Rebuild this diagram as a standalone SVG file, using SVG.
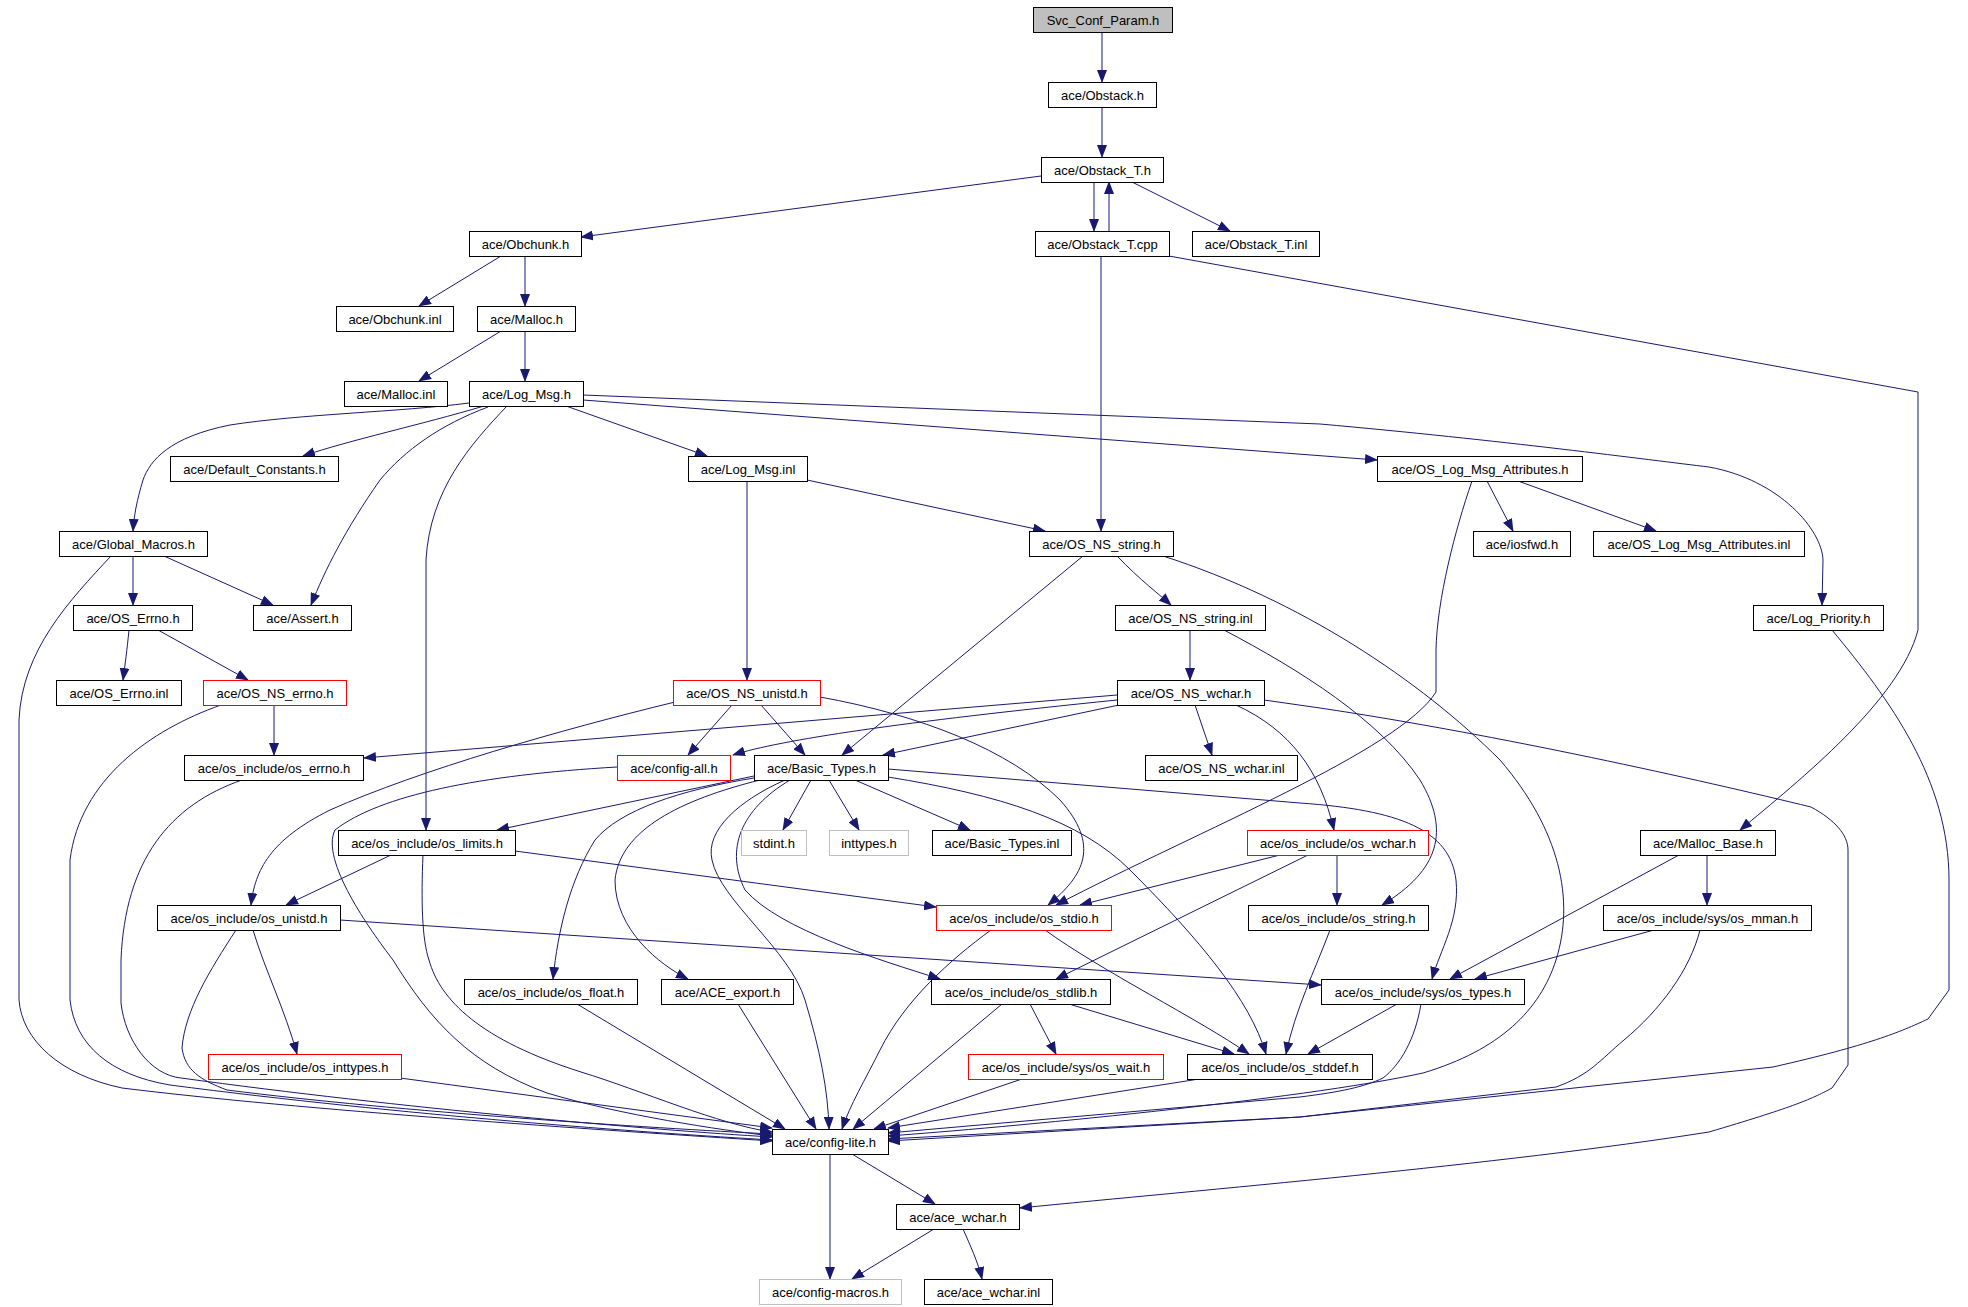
<svg xmlns="http://www.w3.org/2000/svg" width="1968" height="1307" viewBox="0 0 1968 1307">
<defs>
<style>
.n rect{fill:#fff;stroke:#000;stroke-width:1}
.n.r rect{stroke:#ff0000}
.n.g rect{stroke:#bfbfbf}
.n.root rect{fill:#bfbfbf}
.n text{font-family:"Liberation Sans",Arial,sans-serif;font-size:13px;fill:#000;text-anchor:middle}
#edges path{fill:none;stroke:#191970;stroke-width:1;marker-end:url(#a)}
</style>
<marker id="a" markerUnits="userSpaceOnUse" markerWidth="13" markerHeight="10" refX="12" refY="5" orient="auto"><path d="M0,0 L13,5 L0,10 Z" fill="#191970"/></marker>
</defs>
<rect width="1968" height="1307" fill="#fff"/>
<g id="edges">
<path d="M1102,32 L1102,82"/>
<path d="M1102,107 L1102,157"/>
<path d="M1041,176 L581,237"/>
<path d="M1094,182 L1094,231"/>
<path d="M1109,231 L1109,182"/>
<path d="M1132,182 L1230,231"/>
<path d="M1101,256 L1101,531"/>
<path d="M1169,256 L1918,392 L1918,630 C1900,700 1800,780 1740,830"/>
<path d="M501,256 L419,306"/>
<path d="M525,256 L525,306"/>
<path d="M501,331 L419,381"/>
<path d="M525,331 L525,381"/>
<path d="M469,403 C400,412 300,414 230,425 C170,437 150,460 143,480 C137,500 134,515 133,531"/>
<path d="M484,406 C420,425 350,440 303,456"/>
<path d="M488,407 C440,425 405,450 380,480 C345,530 325,570 311,605"/>
<path d="M507,406 C470,445 430,490 426,560 L426,830"/>
<path d="M566,406 L707,456"/>
<path d="M583,400 L1377,460"/>
<path d="M583,395 L1320,424 C1500,440 1650,460 1709,467 C1780,480 1822,530 1823,560 L1822,605"/>
<path d="M807,480 L1045,531"/>
<path d="M747,481 L747,680"/>
<path d="M1487,481 L1513,531"/>
<path d="M1518,481 L1656,531"/>
<path d="M1472,481 C1455,530 1437,600 1436,650 L1436,692 C1400,750 1200,830 1056,905"/>
<path d="M164,556 L273,605"/>
<path d="M133,556 L133,605"/>
<path d="M111,556 C70,600 22,650 19,720 L19,1000 C22,1040 60,1075 122,1088 C300,1110 600,1130 772,1141"/>
<path d="M129,630 C127,650 125,665 123,680"/>
<path d="M158,630 L248,680"/>
<path d="M274,705 L274,755"/>
<path d="M221,705 C150,730 80,780 70,860 L70,1000 C75,1045 110,1075 170,1085 C400,1115 650,1133 772,1140"/>
<path d="M1083,556 L842,755"/>
<path d="M1117,556 C1140,580 1160,595 1171,605"/>
<path d="M1163,556 C1300,600 1420,680 1500,760 C1560,830 1575,900 1556,960 C1540,1010 1500,1050 1423,1073 C1300,1100 1000,1128 888,1136"/>
<path d="M1190,630 L1190,680"/>
<path d="M1224,630 C1300,670 1380,720 1420,780 C1450,830 1440,870 1382,905"/>
<path d="M1832,630 C1890,700 1949,780 1949,880 L1949,990 L1928,1019 C1900,1032 1870,1045 1773,1067 L1300,1117 L888,1141"/>
<path d="M675,702 C560,730 420,770 330,810 C270,840 255,870 251,905"/>
<path d="M732,705 L688,755"/>
<path d="M761,705 L805,755"/>
<path d="M820,697 C920,715 1010,750 1060,800 C1100,845 1085,875 1048,905"/>
<path d="M1117,695 L364,758"/>
<path d="M1117,700 C900,722 780,740 733,755"/>
<path d="M1119,705 L883,755"/>
<path d="M1195,705 L1212,755"/>
<path d="M1236,705 C1290,730 1320,770 1334,830"/>
<path d="M1264,700 L1320,708 C1500,735 1700,780 1811,807 C1835,820 1848,835 1848,850 L1848,1065 L1832,1088 C1810,1100 1790,1108 1709,1132 C1500,1165 1200,1190 1020,1208"/>
<path d="M242,780 C170,805 125,860 121,960 L121,1003 C125,1040 150,1075 181,1078 C400,1108 650,1130 772,1137"/>
<path d="M617,767 C480,775 380,795 335,830 C320,860 370,930 393,960 C430,1020 470,1065 547,1093 C620,1115 720,1130 772,1136"/>
<path d="M754,776 L497,830"/>
<path d="M811,780 L783,830"/>
<path d="M829,780 L859,830"/>
<path d="M855,780 L970,830"/>
<path d="M754,778 C680,790 620,810 595,840 C570,880 558,930 553,979"/>
<path d="M760,780 C680,800 620,830 615,880 C615,930 660,965 688,979"/>
<path d="M785,780 C740,800 705,830 712,860 C720,900 790,950 805,1000 C820,1050 828,1090 829,1129"/>
<path d="M790,780 C740,810 725,850 745,890 C780,930 880,960 940,979"/>
<path d="M888,777 C1000,795 1080,820 1130,870 C1200,940 1250,1000 1266,1054"/>
<path d="M888,769 L1300,803 C1400,810 1450,830 1456,880 C1460,920 1440,950 1432,979"/>
<path d="M391,855 L286,905"/>
<path d="M515,851 L936,907"/>
<path d="M423,855 C421,900 422,940 429,960 C440,1000 480,1040 581,1072 C640,1090 720,1125 772,1132"/>
<path d="M1280,855 L1080,905"/>
<path d="M1337,855 L1337,905"/>
<path d="M1308,855 L1056,979"/>
<path d="M1707,855 L1707,905"/>
<path d="M1679,855 L1450,979"/>
<path d="M340,920 L1321,985"/>
<path d="M253,930 C265,970 285,1010 297,1054"/>
<path d="M236,930 C210,970 185,1010 182,1048 C185,1070 200,1080 227,1090 C400,1112 650,1128 772,1134"/>
<path d="M991,930 C950,960 905,1000 880,1050 C865,1080 850,1105 842,1129"/>
<path d="M1045,930 C1100,970 1200,1020 1249,1054"/>
<path d="M1330,930 C1315,970 1295,1010 1286,1054"/>
<path d="M1654,930 L1475,979"/>
<path d="M1700,930 C1690,970 1660,1010 1624,1040 C1600,1060 1590,1075 1556,1087 L1300,1117 L888,1139"/>
<path d="M577,1004 L785,1129"/>
<path d="M738,1004 L816,1129"/>
<path d="M1030,1004 L1056,1054"/>
<path d="M1069,1004 L1234,1054"/>
<path d="M1002,1004 L853,1129"/>
<path d="M1397,1004 L1308,1054"/>
<path d="M1421,1004 C1415,1040 1400,1065 1383,1078 C1364,1087 1340,1092 1300,1097 L888,1133"/>
<path d="M400,1078 L660,1113 L772,1128"/>
<path d="M1022,1079 L874,1129"/>
<path d="M1199,1079 L888,1128"/>
<path d="M830,1154 L830,1279"/>
<path d="M852,1154 L935,1204"/>
<path d="M934,1229 L852,1279"/>
<path d="M963,1229 C970,1245 978,1262 982,1279"/>
</g>
<g id="n0" class="n root"><rect x="1033.5" y="7.5" width="139" height="25"/><text x="1103" y="24.5">Svc_Conf_Param.h</text></g>
<g id="n1" class="n"><rect x="1048.5" y="82.5" width="108" height="25"/><text x="1102.5" y="99.5">ace/Obstack.h</text></g>
<g id="n2" class="n"><rect x="1041.5" y="157.5" width="122" height="25"/><text x="1102.5" y="174.5">ace/Obstack_T.h</text></g>
<g id="n3" class="n"><rect x="469.5" y="231.5" width="112" height="25"/><text x="525.5" y="248.5">ace/Obchunk.h</text></g>
<g id="n4" class="n"><rect x="1035.5" y="231.5" width="134" height="25"/><text x="1102.5" y="248.5">ace/Obstack_T.cpp</text></g>
<g id="n5" class="n"><rect x="1192.5" y="231.5" width="127" height="25"/><text x="1256" y="248.5">ace/Obstack_T.inl</text></g>
<g id="n6" class="n"><rect x="336.5" y="306.5" width="117" height="25"/><text x="395" y="323.5">ace/Obchunk.inl</text></g>
<g id="n7" class="n"><rect x="477.5" y="306.5" width="98" height="25"/><text x="526.5" y="323.5">ace/Malloc.h</text></g>
<g id="n8" class="n"><rect x="344.5" y="381.5" width="103" height="25"/><text x="396" y="398.5">ace/Malloc.inl</text></g>
<g id="n9" class="n"><rect x="469.5" y="381.5" width="114" height="25"/><text x="526.5" y="398.5">ace/Log_Msg.h</text></g>
<g id="n10" class="n"><rect x="170.5" y="456.5" width="168" height="25"/><text x="254.5" y="473.5">ace/Default_Constants.h</text></g>
<g id="n11" class="n"><rect x="688.5" y="456.5" width="119" height="25"/><text x="748" y="473.5">ace/Log_Msg.inl</text></g>
<g id="n12" class="n"><rect x="1377.5" y="456.5" width="205" height="25"/><text x="1480" y="473.5">ace/OS_Log_Msg_Attributes.h</text></g>
<g id="n13" class="n"><rect x="59.5" y="531.5" width="148" height="25"/><text x="133.5" y="548.5">ace/Global_Macros.h</text></g>
<g id="n14" class="n"><rect x="1029.5" y="531.5" width="144" height="25"/><text x="1101.5" y="548.5">ace/OS_NS_string.h</text></g>
<g id="n15" class="n"><rect x="1473.5" y="531.5" width="97" height="25"/><text x="1522" y="548.5">ace/iosfwd.h</text></g>
<g id="n16" class="n"><rect x="1593.5" y="531.5" width="211" height="25"/><text x="1699" y="548.5">ace/OS_Log_Msg_Attributes.inl</text></g>
<g id="n17" class="n"><rect x="73.5" y="605.5" width="119" height="25"/><text x="133" y="622.5">ace/OS_Errno.h</text></g>
<g id="n18" class="n"><rect x="253.5" y="605.5" width="98" height="25"/><text x="302.5" y="622.5">ace/Assert.h</text></g>
<g id="n19" class="n"><rect x="1115.5" y="605.5" width="150" height="25"/><text x="1190.5" y="622.5">ace/OS_NS_string.inl</text></g>
<g id="n20" class="n"><rect x="1753.5" y="605.5" width="130" height="25"/><text x="1818.5" y="622.5">ace/Log_Priority.h</text></g>
<g id="n21" class="n"><rect x="56.5" y="680.5" width="125" height="25"/><text x="119" y="697.5">ace/OS_Errno.inl</text></g>
<g id="n22" class="n r"><rect x="203.5" y="680.5" width="143" height="25"/><text x="275" y="697.5">ace/OS_NS_errno.h</text></g>
<g id="n23" class="n r"><rect x="673.5" y="680.5" width="147" height="25"/><text x="747" y="697.5">ace/OS_NS_unistd.h</text></g>
<g id="n24" class="n"><rect x="1117.5" y="680.5" width="147" height="25"/><text x="1191" y="697.5">ace/OS_NS_wchar.h</text></g>
<g id="n25" class="n"><rect x="184.5" y="755.5" width="179" height="25"/><text x="274" y="772.5">ace/os_include/os_errno.h</text></g>
<g id="n26" class="n r"><rect x="617.5" y="755.5" width="113" height="25"/><text x="674" y="772.5">ace/config-all.h</text></g>
<g id="n27" class="n"><rect x="754.5" y="755.5" width="134" height="25"/><text x="821.5" y="772.5">ace/Basic_Types.h</text></g>
<g id="n28" class="n"><rect x="1145.5" y="755.5" width="152" height="25"/><text x="1221.5" y="772.5">ace/OS_NS_wchar.inl</text></g>
<g id="n29" class="n"><rect x="338.5" y="830.5" width="177" height="25"/><text x="427" y="847.5">ace/os_include/os_limits.h</text></g>
<g id="n30" class="n g"><rect x="741.5" y="830.5" width="65" height="25"/><text x="774" y="847.5">stdint.h</text></g>
<g id="n31" class="n g"><rect x="829.5" y="830.5" width="79" height="25"/><text x="869" y="847.5">inttypes.h</text></g>
<g id="n32" class="n"><rect x="932.5" y="830.5" width="139" height="25"/><text x="1002" y="847.5">ace/Basic_Types.inl</text></g>
<g id="n33" class="n r"><rect x="1247.5" y="830.5" width="181" height="25"/><text x="1338" y="847.5">ace/os_include/os_wchar.h</text></g>
<g id="n34" class="n"><rect x="1640.5" y="830.5" width="135" height="25"/><text x="1708" y="847.5">ace/Malloc_Base.h</text></g>
<g id="n35" class="n"><rect x="157.5" y="905.5" width="183" height="25"/><text x="249" y="922.5">ace/os_include/os_unistd.h</text></g>
<g id="n36" class="n r"><rect x="936.5" y="905.5" width="175" height="25"/><text x="1024" y="922.5">ace/os_include/os_stdio.h</text></g>
<g id="n37" class="n"><rect x="1248.5" y="905.5" width="180" height="25"/><text x="1338.5" y="922.5">ace/os_include/os_string.h</text></g>
<g id="n38" class="n"><rect x="1603.5" y="905.5" width="208" height="25"/><text x="1707.5" y="922.5">ace/os_include/sys/os_mman.h</text></g>
<g id="n39" class="n"><rect x="464.5" y="979.5" width="173" height="25"/><text x="551" y="996.5">ace/os_include/os_float.h</text></g>
<g id="n40" class="n"><rect x="661.5" y="979.5" width="132" height="25"/><text x="727.5" y="996.5">ace/ACE_export.h</text></g>
<g id="n41" class="n"><rect x="931.5" y="979.5" width="179" height="25"/><text x="1021" y="996.5">ace/os_include/os_stdlib.h</text></g>
<g id="n42" class="n"><rect x="1321.5" y="979.5" width="203" height="25"/><text x="1423" y="996.5">ace/os_include/sys/os_types.h</text></g>
<g id="n43" class="n r"><rect x="208.5" y="1054.5" width="193" height="25"/><text x="305" y="1071.5">ace/os_include/os_inttypes.h</text></g>
<g id="n44" class="n r"><rect x="968.5" y="1054.5" width="195" height="25"/><text x="1066" y="1071.5">ace/os_include/sys/os_wait.h</text></g>
<g id="n45" class="n"><rect x="1187.5" y="1054.5" width="185" height="25"/><text x="1280" y="1071.5">ace/os_include/os_stddef.h</text></g>
<g id="n46" class="n"><rect x="772.5" y="1129.5" width="116" height="25"/><text x="830.5" y="1146.5">ace/config-lite.h</text></g>
<g id="n47" class="n"><rect x="896.5" y="1204.5" width="123" height="25"/><text x="958" y="1221.5">ace/ace_wchar.h</text></g>
<g id="n48" class="n g"><rect x="759.5" y="1279.5" width="142" height="25"/><text x="830.5" y="1296.5">ace/config-macros.h</text></g>
<g id="n49" class="n"><rect x="924.5" y="1279.5" width="128" height="25"/><text x="988.5" y="1296.5">ace/ace_wchar.inl</text></g>
</svg>
